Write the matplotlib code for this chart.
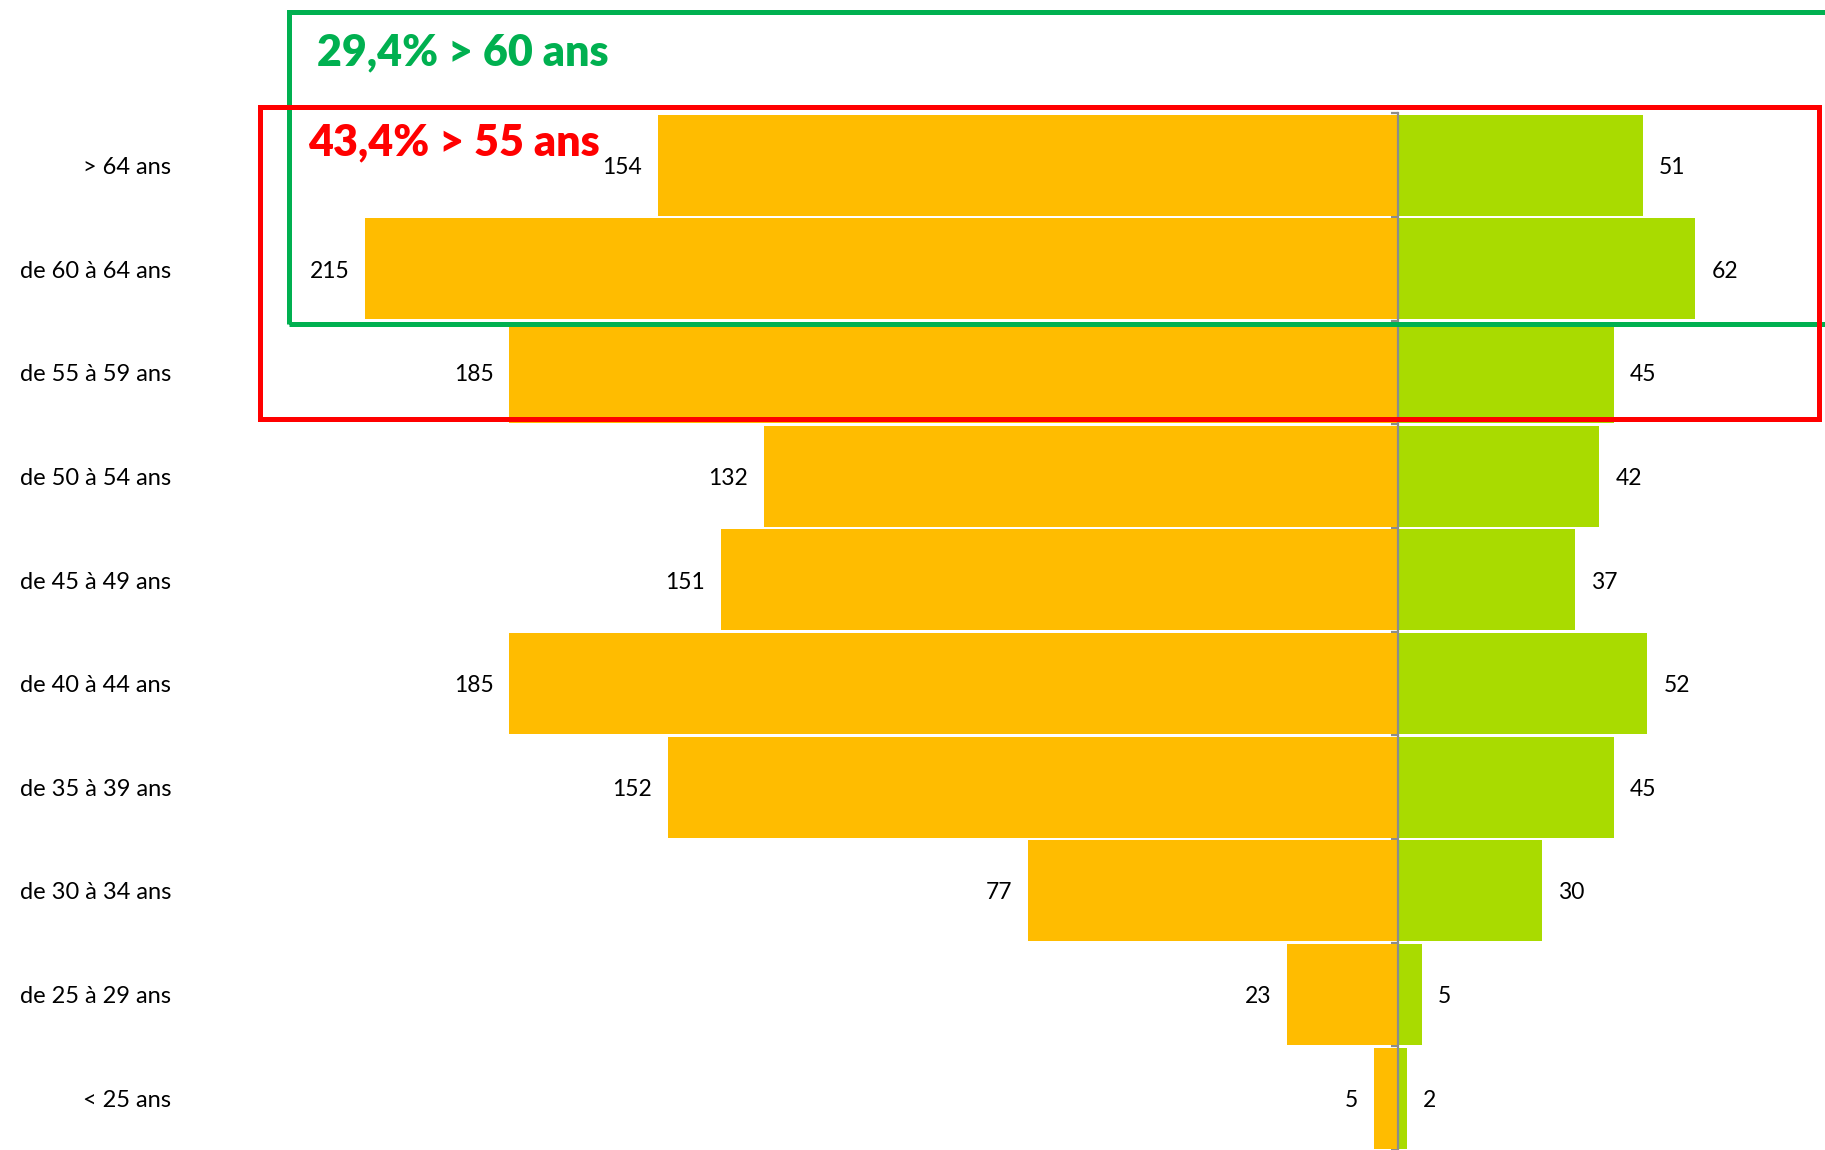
import matplotlib
matplotlib.use("Agg")
import matplotlib.pyplot as plt
from matplotlib.patches import Rectangle
from matplotlib.transforms import blended_transform_factory, offset_copy

plt.rcParams['font.family'] = ['Lato', 'DejaVu Sans']

categories = ["> 64 ans", "de 60 à 64 ans", "de 55 à 59 ans", "de 50 à 54 ans",
              "de 45 à 49 ans", "de 40 à 44 ans", "de 35 à 39 ans", "de 30 à 34 ans",
              "de 25 à 29 ans", "< 25 ans"]
# bar lengths as drawn in the reference
left_values = [154, 215, 185, 132, 141, 185, 152, 77, 23, 5]
right_values = [51, 62, 45, 42, 37, 52, 45, 30, 5, 2]
# data labels as printed in the reference
left_labels = ["154", "215", "185", "132", "151", "185", "152", "77", "23", "5"]
right_labels = ["51", "62", "45", "42", "37", "52", "45", "30", "5", "2"]
note_green = "29,4% > 60 ans"
note_red = "43,4% > 55 ans"

W, H = 1568.0, 988.0  # layout reference units
fig = plt.figure(figsize=(18.25, 11.5), dpi=100)
ax = fig.add_axes([222 / W, 0.0, 1 - 222 / W, 1 - 97.5 / H])

ypos = list(range(len(categories)))
ax.barh(ypos, [-v for v in left_values], height=0.975, color='#FFBC00', zorder=2)
ax.barh(ypos, right_values, height=0.975, color='#A9DB00', zorder=2)

ax.set_xlim(-237.3, 89.0)
ax.set_ylim(len(categories) - 0.5, -0.5)

for s in ['top', 'right', 'bottom']:
    ax.spines[s].set_visible(False)
ax.spines['left'].set_position(('data', 0))
ax.spines['left'].set_color('#8C8C8C')
ax.spines['left'].set_linewidth(1.6)
ax.spines['left'].set_zorder(5)
ax.set_yticks([i - 0.5 for i in range(len(categories) + 1)])
ax.tick_params(axis='y', length=5, width=1.6, color='#8C8C8C', labelleft=False, direction='out')
ax.set_xticks([])

trans = offset_copy(blended_transform_factory(fig.transFigure, ax.transData),
                    fig=fig, x=0, y=-1.5, units='points')
for i, c in enumerate(categories):
    ax.text(147 / W, i, c, transform=trans, ha='right', va='center', fontsize=17, color='black')

for i, (v, lab) in enumerate(zip(left_values, left_labels)):
    ax.annotate(lab, xy=(-v, i), xytext=(-11.5, -1.5), textcoords='offset points',
                ha='right', va='center', fontsize=16.5, color='black', zorder=6)
for i, (v, lab) in enumerate(zip(right_values, right_labels)):
    ax.annotate(lab, xy=(v, i), xytext=(11.5, -1.5), textcoords='offset points',
                ha='left', va='center', fontsize=16.5, color='black', zorder=6)

# highlight boxes
fig.patches.append(Rectangle((248 / W, 1 - 278 / H), (1580 - 248) / W, (278 - 10) / H,
                             transform=fig.transFigure, fill=False, edgecolor='#00B050',
                             linewidth=3.6, zorder=10))
fig.patches.append(Rectangle((223 / W, 1 - 360 / H), (1563 - 223) / W, (360 - 92) / H,
                             transform=fig.transFigure, fill=False, edgecolor='#FF0000',
                             linewidth=3.6, zorder=11))

fig.text(272 / W, 1 - 45 / H, note_green, color='#00B050', fontsize=31, fontweight='heavy',
         ha='left', va='center')
fig.text(265 / W, 1 - 122 / H, note_red, color='#FF0000', fontsize=31, fontweight='heavy',
         ha='left', va='center')

fig.savefig('out.png', dpi=100)
